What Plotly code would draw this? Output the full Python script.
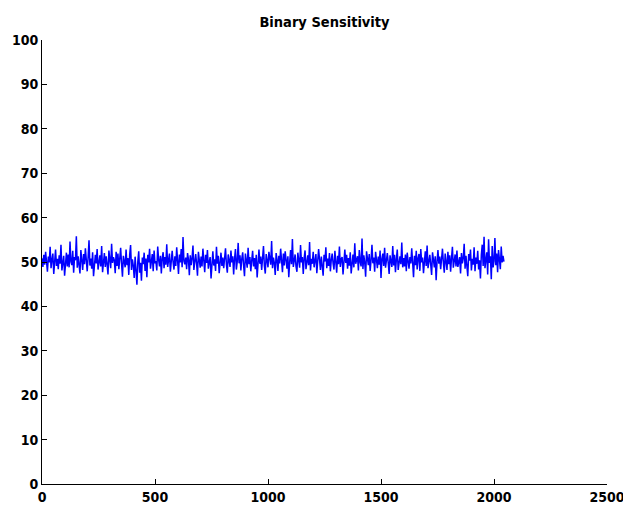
import plotly.graph_objects as go

title_text = "Binary Sensitivity"
sample_step = 4
sensitivity = [
    50.8, 48.9, 51.6, 49.4, 52.3, 50.1, 47.8, 51.2, 49.9, 53.4, 48.6, 50.5, 51.9, 47.3, 50.2, 52.8, 49.1, 50.7, 48.4, 51.5,
    49.6, 53.9, 48.1, 50.9, 51.4, 46.9, 50.3, 52.1, 49.0, 51.7, 48.8, 54.6, 50.0, 49.3, 52.5, 47.6, 51.1, 50.4, 55.8, 48.7,
    51.3, 49.8, 47.4, 52.7, 50.6, 48.2, 51.8, 49.5, 53.1, 50.2, 47.9, 51.0, 54.9, 49.2, 50.8, 48.5, 52.2, 46.8, 50.5, 51.6,
    49.7, 52.9, 48.3, 50.1, 51.5, 49.0, 53.6, 47.7, 50.9, 52.0, 48.9, 51.3, 49.4, 47.2, 52.6, 50.3, 48.6, 54.1, 49.8, 51.1,
    50.4, 47.5, 52.3, 49.1, 51.9, 48.4, 50.7, 53.2, 49.6, 46.7, 51.4, 50.0, 48.8, 52.8, 49.3, 50.9, 47.1, 51.7, 53.8, 48.2,
    50.6, 49.2, 46.4, 51.2, 48.7, 44.9, 50.1, 52.4, 47.6, 49.8, 45.8, 51.0, 49.5, 52.1, 48.0, 50.8, 46.6, 51.6, 49.9, 53.0,
    48.5, 50.3, 51.8, 47.9, 52.6, 49.7, 50.2, 48.1, 53.5, 50.5, 49.0, 51.4, 47.4, 50.9, 52.2, 48.6, 51.1, 49.4, 54.0, 48.9,
    50.7, 51.9, 47.8, 49.6, 52.5, 50.0, 48.3, 51.3, 49.1, 53.3, 50.4, 47.3, 51.7, 49.9, 52.9, 48.8, 55.6, 50.2, 49.5, 51.0,
    48.4, 52.0, 50.6, 47.0, 51.5, 49.3, 50.8, 53.7, 48.2, 50.1, 51.8, 49.7, 46.9, 52.3, 50.4, 48.7, 51.2, 49.0, 53.0, 50.5,
    47.7, 51.6, 49.8, 52.7, 48.5, 50.0, 51.1, 46.3, 50.9, 52.4, 49.2, 50.6, 48.0, 53.4, 49.6, 51.4, 47.5, 50.3, 52.1, 49.1,
    51.0, 48.6, 50.2, 53.1, 49.4, 47.6, 51.7, 50.5, 48.9, 52.6, 49.9, 51.3, 47.2, 50.8, 52.9, 48.3, 50.1, 54.3, 49.7, 51.5,
    48.1, 50.7, 52.2, 49.3, 46.8, 51.9, 50.0, 48.7, 53.2, 49.5, 51.1, 47.9, 50.4, 52.5, 49.0, 50.9, 48.4, 51.6, 46.5, 50.3,
    52.8, 49.6, 51.2, 48.2, 50.6, 53.6, 49.1, 47.4, 51.8, 50.2, 48.8, 52.3, 50.7, 49.4, 54.7, 48.6, 51.0, 49.8, 47.1, 52.0,
    50.5, 48.0, 51.4, 49.7, 53.0, 50.1, 47.7, 51.9, 49.2, 52.4, 50.8, 48.5, 51.3, 46.6, 50.0, 52.7, 49.5, 55.2, 48.9, 50.6,
    51.7, 49.0, 47.8, 52.1, 50.3, 48.7, 53.8, 49.9, 51.1, 47.3, 50.9, 52.6, 48.4, 50.2, 51.5, 49.3, 54.5, 48.1, 50.7, 49.6,
    52.3, 48.8, 50.4, 51.8, 47.5, 49.9, 52.9, 50.6, 48.2, 51.2, 49.4, 46.9, 51.6, 50.1, 53.3, 48.6, 50.8, 49.1, 52.0, 47.9,
    50.5, 51.9, 49.7, 48.3, 52.5, 50.0, 47.6, 51.4, 49.5, 53.5, 48.9, 50.7, 51.1, 47.2, 50.3, 52.8, 49.8, 51.6, 48.5, 50.9,
    49.2, 52.2, 47.4, 50.6, 51.7, 48.8, 54.2, 49.6, 50.2, 51.3, 48.1, 52.7, 50.0, 49.0, 55.3, 48.4, 51.5, 49.9, 46.7, 52.4,
    50.8, 49.3, 51.8, 48.0, 50.4, 53.9, 49.7, 51.0, 47.8, 52.3, 50.5, 48.6, 51.2, 49.4, 52.6, 46.4, 50.7, 51.9, 49.1, 53.2,
    48.7, 50.1, 52.0, 49.8, 47.3, 51.5, 50.3, 48.9, 53.6, 49.2, 51.6, 47.7, 50.6, 52.8, 48.2, 50.0, 51.3, 49.5, 54.4, 48.8,
    50.9, 49.0, 51.7, 47.9, 52.1, 50.2, 48.5, 51.1, 49.7, 53.1, 50.4, 46.6, 51.4, 49.3, 52.5, 48.3, 50.8, 51.8, 48.0, 52.9,
    49.9, 51.0, 47.5, 50.5, 52.4, 49.1, 53.7, 48.6, 50.3, 51.6, 49.4, 47.1, 52.2, 50.7, 48.8, 51.3, 45.9, 50.1, 52.7, 49.6,
    51.2, 48.4, 50.6, 53.0, 49.8, 47.6, 51.9, 50.0, 48.2, 52.3, 49.5, 51.5, 47.8, 50.9, 53.4, 48.7, 50.2, 51.7, 49.0, 52.6,
    48.9, 50.5, 51.1, 47.4, 52.0, 49.7, 50.8, 54.1, 48.5, 51.4, 49.2, 46.8, 51.8, 50.3, 52.8, 48.1, 50.7, 49.4, 53.3, 47.9,
    51.0, 49.6, 52.5, 48.3, 50.4, 46.3, 51.6, 53.9, 49.1, 55.7, 48.6, 50.9, 52.2, 47.2, 55.1, 49.8, 51.3, 46.1, 53.6, 48.8,
    50.2, 55.4, 49.3, 51.9, 47.7, 52.7, 50.6, 48.4, 53.5, 49.9, 51.4, 50.1,
]
x_ticks = [0, 500, 1000, 1500, 2000, 2500]
y_ticks = [0, 10, 20, 30, 40, 50, 60, 70, 80, 90, 100]

x_vals = [i * sample_step for i in range(len(sensitivity))]

font_family = "DejaVu Sans Condensed, Liberation Sans, Arial, sans-serif"

fig = go.Figure(go.Scatter(
    x=x_vals, y=sensitivity, mode="lines",
    line=dict(color="#0000ff", width=1.5),
    showlegend=False,
))

axis_common = dict(
    showline=True, linecolor="black", linewidth=1, mirror=False,
    ticks="inside", ticklen=5, tickcolor="black", tickwidth=1,
    showgrid=False, zeroline=False, automargin=False,
    ticklabeloverflow="allow",
    tickfont=dict(family=font_family, size=14, color="black", weight="bold"),
)

fig.update_layout(
    width=623, height=507,
    paper_bgcolor="white", plot_bgcolor="white",
    margin=dict(l=42, r=16, t=40, b=23),
    title=dict(text=title_text, x=(42 + 607) / 2 / 623, xanchor="center",
               yref="container", y=1 - 22 / 507, yanchor="middle",
               font=dict(family=font_family, size=14.5, color="black", weight="bold")),
    xaxis=dict(range=[0, 2500], tickvals=x_ticks, ticktext=[str(v) for v in x_ticks], **axis_common),
    yaxis=dict(range=[0, 100], tickvals=y_ticks, ticktext=[str(v) for v in y_ticks], **axis_common),
)

fig.write_html(
    "out.html",
    config={"displayModeBar": False},
    post_script="document.body.style.margin='0';document.body.style.overflow='hidden';",
)
